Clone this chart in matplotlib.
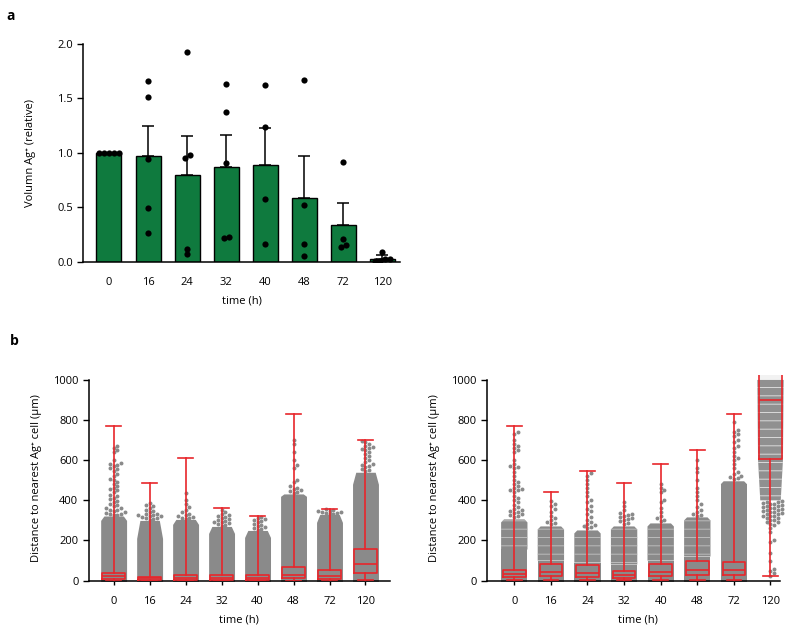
import matplotlib
matplotlib.use("Agg")
import matplotlib.pyplot as plt
import numpy as np

plt.rcParams['font.family'] = ['Open Sans', 'DejaVu Sans']
plt.rcParams['font.size'] = 8
plt.rcParams['hatch.linewidth'] = 0.6

times = ['0', '16', '24', '32', '40', '48', '72', '120']

# ---- panel a: relative volume of Ag+ area ----
vol_mean = [1.0, 0.97, 0.80, 0.87, 0.89, 0.59, 0.34, 0.03]
vol_sem = [0.0, 0.28, 0.35, 0.29, 0.34, 0.38, 0.20, 0.03]
vol_points = [
    [1.0, 1.0, 1.0, 1.0, 1.0],
    [1.66, 1.51, 0.94, 0.49, 0.26],
    [1.92, 0.98, 0.95, 0.12, 0.07],
    [1.63, 1.37, 0.91, 0.23, 0.22],
    [1.62, 1.24, 0.58, 0.16],
    [1.67, 0.52, 0.16, 0.05],
    [0.92, 0.21, 0.14, 0.15],
    [0.09, 0.03, 0.01, 0.01, 0.03],
]

# ---- panel b: distance to nearest Ag+ cell, box stats ----
left_q1 = [8, 4, 5, 5, 5, 15, 8, 40]
left_med = [22, 11, 14, 14, 14, 30, 24, 85]
left_q3 = [38, 20, 28, 26, 26, 68, 55, 155]
left_lo = [0, 0, 0, 0, 0, 0, 0, 2]
left_hi = [770, 485, 612, 360, 320, 828, 355, 700]

right_q1 = [18, 25, 20, 12, 25, 28, 30, 605]
right_med = [32, 42, 40, 28, 42, 52, 52, 900]
right_q3 = [52, 82, 78, 50, 82, 100, 95, 1060]
right_lo = [3, 3, 3, 3, 3, 3, 3, 25]
right_hi = [770, 440, 545, 485, 582, 650, 830, 1100]

# swarm outline: solid part, then tapering shoulder, then single dots
left_solid = [300, 210, 280, 235, 215, 420, 290, 480]
left_shoulder = [322, 300, 305, 270, 250, 432, 330, 540]
left_tails = [
    [325, 328, 330, 332, 335, 340, 345, 350, 352, 360, 362, 370, 375, 380, 390,
     395, 405, 410, 420, 425, 440, 450, 455, 460, 470, 480, 490, 500, 505, 520,
     530, 545, 555, 560, 570, 575, 580, 585, 600, 640, 650, 660, 672],
    [300, 305, 310, 312, 318, 320, 322, 325, 328, 330, 332, 340, 345, 350, 360,
     370, 378, 386],
    [305, 310, 312, 315, 320, 325, 330, 340, 350, 365, 380, 400, 435],
    [270, 275, 280, 285, 290, 292, 295, 300, 305, 310, 315, 320, 325, 330, 340,
     352],
    [250, 255, 260, 265, 270, 275, 280, 290, 295, 300, 305, 310, 315],
    [435, 440, 445, 450, 455, 460, 470, 490, 500, 560, 575, 600, 640, 680, 700],
    [330, 332, 335, 338, 340, 343, 345, 348, 352, 355],
    [545, 550, 555, 565, 570, 575, 580, 590, 600, 610, 620, 630, 640, 650, 655,
     660, 665, 670, 680, 690, 695],
]

right_solid = [155, 100, 90, 80, 100, 120, 480, 0]
right_semi = [305, 270, 250, 270, 285, 315, 495, 0]
right_tails = [
    [315, 320, 325, 330, 335, 340, 345, 350, 355, 365, 375, 390, 400, 410, 420,
     440, 450, 452, 455, 460, 470, 480, 490, 500, 520, 540, 560, 565, 570, 580,
     600, 640, 650, 660, 670, 680, 700, 730, 740],
    [280, 285, 290, 300, 310, 320, 340, 355, 370, 380, 395],
    [260, 265, 270, 275, 280, 290, 300, 315, 330, 345, 355, 370, 390, 400, 420,
     440, 460, 480, 500, 520, 535],
    [280, 285, 295, 300, 305, 310, 315, 320, 325, 330, 335, 350, 370, 390],
    [295, 300, 310, 320, 340, 360, 390, 400, 440, 450, 460, 480],
    [320, 325, 330, 340, 350, 365, 380, 400, 420, 440, 460, 500, 540, 560, 600],
    [505, 510, 515, 520, 530, 540, 560, 580, 600, 610, 620, 640, 660, 670, 690,
     700, 720, 730, 740, 750, 790],
    [25, 40, 50, 60, 100, 140, 190, 200, 240, 260, 275, 280, 290, 290, 300,
     300, 310, 310, 320, 320, 320, 330, 330, 335, 340, 340, 345, 350, 350, 355,
     360, 360, 365, 370, 370, 375, 380, 380, 385, 390, 390, 395],
]
# the 120 h group on the right is sparse everywhere: striped band only
right120_band = [400, 600, 1000]
right120_halfw = [0.28, 0.34, 0.36]

GREEN = '#0f7a3e'
GREY = '#8a8a8a'
RED = '#e8262b'


def cluster_offsets(vals, d_px, sy):
    # GraphPad-like: points closer than one dot get spread symmetrically
    order = np.argsort(vals)
    offs = np.zeros(len(vals))
    groups, cur = [], [order[0]]
    for i in order[1:]:
        if (vals[i] - vals[cur[-1]]) * sy < d_px:
            cur.append(i)
        else:
            groups.append(cur)
            cur = [i]
    groups.append(cur)
    for g in groups:
        n = len(g)
        for k, i in enumerate(g):
            offs[i] = (k - (n - 1) / 2) * d_px
    return offs


def swarm_offsets(vals, d_px, sy, max_px):
    placed = []
    offs = []
    for v in sorted(vals):
        py = v * sy
        chosen = 0.0
        for k in range(0, 40):
            cand = ((k + 1) // 2) * d_px * (1 if k % 2 else -1)
            if abs(cand) > max_px:
                break
            if all(np.hypot(cand - px, py - qy) >= d_px for px, qy in placed):
                chosen = cand
                break
        placed.append((chosen, py))
        offs.append(chosen)
    return sorted(vals), np.array(offs)


fig = plt.figure(figsize=(8, 6.34), dpi=100)

# ---------------- panel a ----------------
ax = fig.add_axes([0.104, 0.587, 0.396, 0.344])
x = np.arange(len(times))
ax.bar(x, vol_mean, width=0.64, color=GREEN, edgecolor='black', linewidth=1.0, zorder=2)
has_err = np.array(vol_sem) > 0
ax.errorbar(x[has_err], np.array(vol_mean)[has_err],
            yerr=[np.zeros(has_err.sum()), np.array(vol_sem)[has_err]],
            fmt='none', ecolor='black', elinewidth=1.1, capsize=4.5, capthick=1.1, zorder=3)
sy_a = 218 / 2.0   # px per unit
sx_a = 39.2        # px per category
for i, pts in enumerate(vol_points):
    offs = cluster_offsets(np.array(pts), 5.2, sy_a)
    ax.scatter(i + offs / sx_a, pts, s=20, color='black', zorder=4, linewidths=0)
ax.set_xlim(-0.66, 7.45)
ax.set_ylim(0, 2.0)
ax.set_yticks([0, 0.5, 1.0, 1.5, 2.0])
ax.set_yticklabels(['0.0', '0.5', '1.0', '1.5', '2.0'])
ax.set_xticks(x)
ax.set_xticklabels(times)
ax.tick_params(axis='x', length=0, pad=11)
ax.tick_params(axis='y', length=4, width=1.0, direction='out')
for s in ['top', 'right']:
    ax.spines[s].set_visible(False)
for s in ['left', 'bottom']:
    ax.spines[s].set_linewidth(1.1)
ax.set_ylabel('Volumn Ag\u207a (relative)', labelpad=15)
ax.set_xlabel('time (h)', labelpad=5)
fig.text(0.008, 0.975, 'a', fontsize=10, fontweight='bold', va='center')


# ---------------- panel b ----------------
def draw_b(ax, q1, med, q3, lo, hi, solid, shoulder, tails, sx, semi=None):
    sy = 0.201
    n = len(times)
    x = np.arange(n)
    W = 0.36
    ax.bar(x, np.array(q3) - np.array(q1), bottom=q1, width=0.62,
           color='#f2f2f2', zorder=1)
    for i in range(n):
        if solid[i] > 0:
            if semi is None:
                ax.fill_betweenx([-10, solid[i], shoulder[i]],
                                 [i - W, i - W, i - 0.27], [i + W, i + W, i + 0.27],
                                 color=GREY, lw=0, zorder=2)
            else:
                ax.fill_betweenx([-10, solid[i]], i - W, i + W, color=GREY, lw=0, zorder=2)
                ax.fill_betweenx([solid[i], semi[i] - 15, semi[i]],
                                 [i - W, i - W, i - 0.28], [i + W, i + W, i + 0.28],
                                 facecolor=GREY, edgecolor='#c4c4c4', hatch='--',
                                 lw=0, zorder=2)
        vals, offs = swarm_offsets(tails[i], 3.8, sy, W * sx)
        ax.scatter(i + offs / sx, vals, s=8, color=GREY, linewidths=0, zorder=2)
    stats = [dict(med=med[i], q1=q1[i], q3=q3[i], whislo=lo[i], whishi=hi[i], fliers=[])
             for i in range(n)]
    lp = dict(color=RED, linewidth=1.2)
    ax.bxp(stats, positions=x, widths=0.62, showfliers=False, manage_ticks=False,
           boxprops=lp, medianprops=lp, whiskerprops=lp, capprops=lp,
           capwidths=0.4, zorder=4)
    ax.set_ylim(-2, 1025)
    ax.spines['left'].set_bounds(0, 1000)
    ax.set_yticks([0, 200, 400, 600, 800, 1000])
    ax.set_xticks(x)
    ax.set_xticklabels(times)
    ax.tick_params(axis='x', length=3, width=1.0, pad=8)
    ax.tick_params(axis='y', length=4, width=1.0)
    for s in ['top', 'right']:
        ax.spines[s].set_visible(False)
    for s in ['left', 'bottom']:
        ax.spines[s].set_linewidth(1.1)
    ax.set_ylabel('Distance to nearest Ag\u207a cell (\u00b5m)', labelpad=8)
    ax.set_xlabel('time (h)', labelpad=5)


axl = fig.add_axes([0.111, 0.0836, 0.376, 0.325])
draw_b(axl, left_q1, left_med, left_q3, left_lo, left_hi,
       left_solid, left_shoulder, left_tails, 36.0)
axl.set_xlim(-0.69, 7.67)

axr = fig.add_axes([0.609, 0.0836, 0.377, 0.325])
draw_b(axr, right_q1, right_med, right_q3, right_lo, right_hi,
       right_solid, None, right_tails, 36.6, semi=right_semi)
axr.fill_betweenx(right120_band, 7 - np.array(right120_halfw), 7 + np.array(right120_halfw),
                  facecolor='#909090', edgecolor='#e6e6e6', hatch='--', lw=0, zorder=2)
axr.set_xlim(-0.74, 7.5)
axr.spines['bottom'].set_bounds(-0.74, 7.27)

fig.text(0.012, 0.462, 'b', fontsize=10, fontweight='bold', va='center')

fig.savefig('out.png', dpi=100)
